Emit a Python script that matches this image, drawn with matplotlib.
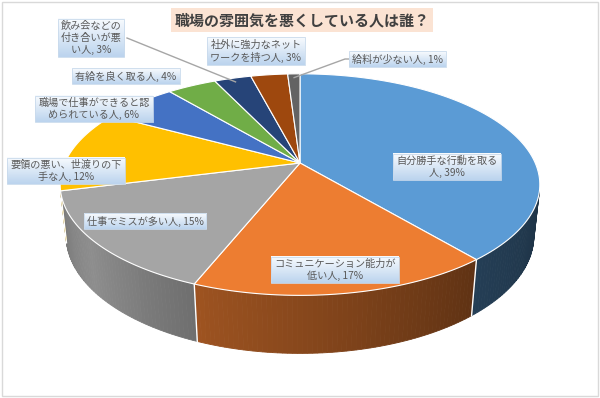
import numpy as np
import matplotlib.pyplot as plt
from matplotlib.patches import Polygon, Rectangle
from matplotlib.colors import to_rgb, LinearSegmentedColormap

plt.rcParams['font.family'] = ['Noto Sans CJK JP', 'DejaVu Sans']

# data
title = '職場の雰囲気を悪くしている人は誰？'
categories = ['自分勝手な行動を取る人', 'コミュニケーション能力が低い人', '仕事でミスが多い人',
              '要領の悪い、世渡りの下手な人', '職場で仕事ができると認められている人', '有給を良く取る人',
              '飲み会などの付き合いが悪い人', '社外に強力なネットワークを持つ人', '給料が少ない人']
shares = [39, 17, 15, 12, 6, 4, 3, 3, 1]

# style / layout
colors = ['#5B9BD5', '#ED7D31', '#A5A5A5', '#FFC000', '#4472C4', '#70AD47', '#264478', '#9E480E', '#636363']
wrapWidths = [10, 12, 0, 11, 11, 0, 6, 9, 0]
labelCenters = [(447, 167), (335, 270), (145, 221), (66, 171), (94, 109), (126, 76), (91, 38), (256, 51), (397, 59)]
leaderStarts = {6: [(127, 38)], 8: [(349, 59), (345, 59)]}
textColor = '#595959'

# camera for the 3d look (pixel space)
camDist, cosE, sinE, focal = 4.57, 0.891, 0.453, 1075
cx, cy = 300, 163
sideDepth = 0.245


def project(theta, r=1.0, z=0.0):
    u = r * np.sin(theta)
    v = r * np.cos(theta)
    d = camDist + v * cosE - z * sinE
    return cx + focal * u / d, cy - focal * (v * sinE + z * cosE) / d


def shade(color, deg):
    f = np.interp(deg, [104, 140, 200, 232, 256], [0.33, 0.4, 0.66, 0.86, 0.74])
    return tuple(np.array(to_rgb(color)) * f)


def makeLabel(name, pct, n):
    lines = [name] if n == 0 else [name[i:i + n] for i in range(0, len(name), n)]
    lines[-1] += f', {pct}%'
    return '\n'.join(lines)


fig = plt.figure(figsize=(6, 3.98), dpi=100)
ax = fig.add_axes([0, 0, 1, 1])
ax.axis('off')

fractions = np.array(shares) / sum(shares)
edges = np.concatenate([[0], np.cumsum(fractions)]) * 2 * np.pi
visLo = np.arccos(-1 / (camDist * cosE))
visHi = 2 * np.pi - visLo

# side walls
for i, color in enumerate(colors):
    a0, a1 = max(edges[i], visLo), min(edges[i + 1], visHi)
    if a1 <= a0:
        continue
    steps = np.linspace(a0, a1, max(2, int(np.degrees(a1 - a0)) + 1))
    for s0, s1 in zip(steps[:-1], steps[1:]):
        th = np.linspace(s0, s1, 4)
        top = np.column_stack(project(th))
        bot = np.column_stack(project(th[::-1], z=-sideDepth))
        c = shade(color, np.degrees((s0 + s1) / 2))
        ax.add_patch(Polygon(np.vstack([top, bot]), closed=True, fc=c, ec=c, lw=0.6, zorder=1))
for a in edges:
    if visLo < a < visHi:
        xs, ys = zip(project(a), project(a, z=-sideDepth))
        ax.plot(xs, ys, color='white', lw=1, zorder=2)

# top faces
for i, color in enumerate(colors):
    th = np.linspace(edges[i], edges[i + 1], 100)
    arc = np.column_stack(project(th))
    ax.add_patch(Polygon(np.vstack([[project(0, r=0)], arc]), closed=True, fc=color, ec='white', lw=0.8, zorder=3))

# labels
texts = []
for i, cat in enumerate(categories):
    x, y = labelCenters[i]
    t = ax.text(x, y, makeLabel(cat, shares[i], wrapWidths[i]), ha='center', va='center',
                fontsize=7.3, color=textColor, linespacing=1.25, zorder=6)
    texts.append(t)

# leader lines for small slices
for i, pts in leaderStarts.items():
    mid = (edges[i] + edges[i + 1]) / 2
    end = project(mid, r=0.95)
    xs, ys = zip(*(pts + [end]))
    ax.plot(xs, ys, color='#a6a6a6', lw=1, zorder=4)

ax.text(302, 20, title, ha='center', va='center', fontsize=10.8, fontweight='bold', color='#404040',
        zorder=6, bbox=dict(boxstyle='square,pad=0.25', fc='#FBE3D3', ec='none'))

ax.add_patch(Rectangle((1.5, 1.5), 596, 394, fill=False, ec='#d9d9d9', lw=1, zorder=7))

ax.set_xlim(0, 600)
ax.set_ylim(398, 0)

# gradient boxes behind labels
boxCmap = LinearSegmentedColormap.from_list('box', ['#F8FBFE', '#BCD4EE'])
fig.canvas.draw()
renderer = fig.canvas.get_renderer()
inv = ax.transData.inverted()
for t in texts:
    bb = t.get_window_extent(renderer)
    (x0, y0), (x1, y1) = inv.transform([[bb.x0, bb.y0], [bb.x1, bb.y1]])
    left, right = x0 - 3, x1 + 3
    top, bottom = min(y0, y1) - 2, max(y0, y1) + 2
    grad = np.linspace(0, 1, 32)[:, None]
    ax.imshow(grad, cmap=boxCmap, extent=(left, right, bottom, top), aspect='auto',
              interpolation='bilinear', zorder=5)
    ax.add_patch(Rectangle((left, top), right - left, bottom - top, fill=False, ec='#C9DAEC', lw=0.6, zorder=5))

ax.set_xlim(0, 600)
ax.set_ylim(398, 0)
fig.savefig('out.png', dpi=100)
